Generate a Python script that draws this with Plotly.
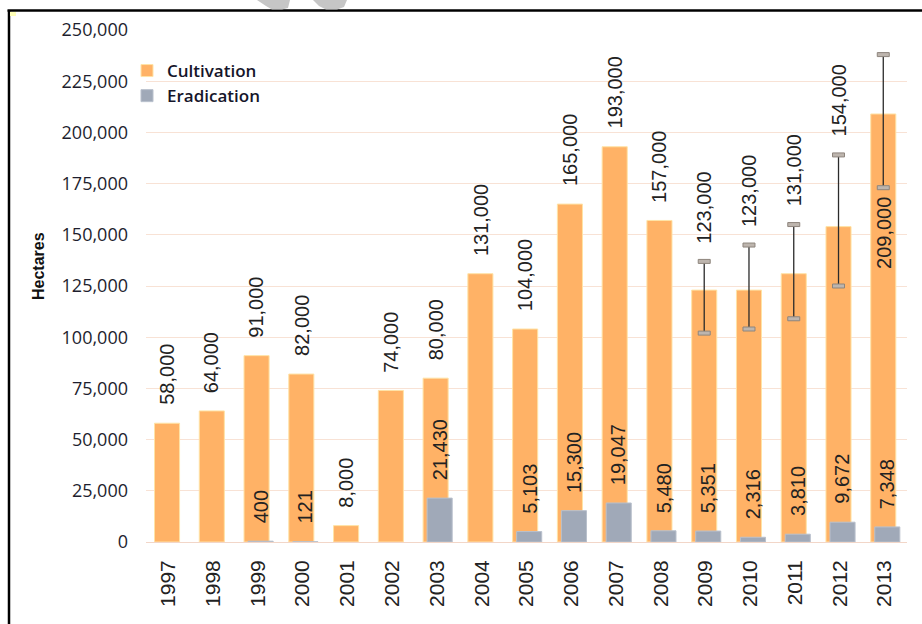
import plotly.graph_objects as go

# ---------------- data ----------------
years = ['1997', '1998', '1999', '2000', '2001', '2002', '2003', '2004', '2005',
         '2006', '2007', '2008', '2009', '2010', '2011', '2012', '2013']
cultivation = [58000, 64000, 91000, 82000, 8000, 74000, 80000, 131000, 104000,
               165000, 193000, 157000, 123000, 123000, 131000, 154000, 209000]
eradication = [None, None, 400, 121, None, None, 21430, None, 5103,
               15300, 19047, 5480, 5351, 2316, 3810, 9672, 7348]
error_years = ['2009', '2010', '2011', '2012', '2013']
error_low = [102000, 104000, 109000, 125000, 173000]
error_high = [137000, 145000, 155000, 189000, 238000]
y_ticks = [0, 25000, 50000, 75000, 100000, 125000, 150000, 175000, 200000, 225000, 250000]

# ---------------- style ----------------
ORANGE = '#FFB266'
GREY = '#A0A9B8'
GRID = '#F8E2D5'
TXT = '#222222'
BAR_W = 0.56
OFF_C = -0.31
OFF_E = -0.22
LABEL_FS = 20
L, R_PX, T_PX, B_PX = 146, 907, 30, 542
W_PX = R_PX - L
H_PX = B_PX - T_PX


def px_x(p):
    return (p - L) / W_PX


def px_y(p):
    return (B_PX - p) / H_PX


err_plus = [None] * len(years)
err_minus = [None] * len(years)
for yr, lo, hi in zip(error_years, error_low, error_high):
    i = years.index(yr)
    err_plus[i] = hi - cultivation[i]
    err_minus[i] = cultivation[i] - lo

fig = go.Figure()
fig.add_trace(go.Bar(
    x=years, y=cultivation, name='Cultivation',
    marker=dict(color=ORANGE, line=dict(color='#FFE3A6', width=1)),
    width=BAR_W, offset=OFF_C,
    error_y=dict(type='data', symmetric=False, array=err_plus, arrayminus=err_minus,
                 color='#2b2b2b', thickness=1.3, width=0),
    hoverinfo='skip',
))
fig.add_trace(go.Bar(
    x=years, y=eradication, name='Eradication',
    marker=dict(color=GREY, line=dict(color='#B9C0CC', width=1)),
    width=BAR_W, offset=OFF_E,
    hoverinfo='skip',
))

annotations = []
shapes = []
label_font = dict(family='Liberation Sans, Arial, sans-serif', size=LABEL_FS, color=TXT)
ymax = y_ticks[-1]
units_per_px = ymax / H_PX


def label_len_units(text):
    return (len(text) * 0.55 * LABEL_FS + 20) * units_per_px


# cultivation labels
for i, (yr, v) in enumerate(zip(years, cultivation)):
    xc = i + OFF_C + BAR_W / 2
    txt = f'{v:,}'
    if yr in error_years:
        k = error_years.index(yr)
        base = error_high[k]
        if base + label_len_units(txt) > ymax:
            annotations.append(dict(x=xc, y=error_low[k], xref='x', yref='y', text=txt,
                                    textangle=-90, showarrow=False, yanchor='top', yshift=-7,
                                    font=label_font))
            continue
        annotations.append(dict(x=xc, y=base, xref='x', yref='y', text=txt,
                                textangle=-90, showarrow=False, yanchor='bottom', yshift=16,
                                font=label_font))
    else:
        annotations.append(dict(x=xc, y=v, xref='x', yref='y', text=txt,
                                textangle=-90, showarrow=False, yanchor='bottom', yshift=16,
                                font=label_font))

# eradication labels
for i, v in enumerate(eradication):
    if v is None:
        continue
    xc = i + OFF_E + BAR_W / 2
    annotations.append(dict(x=xc, y=v, xref='x', yref='y', text=f'{v:,}',
                            textangle=-90, showarrow=False, yanchor='bottom', yshift=16,
                            font=label_font))

# error bar caps
for yr, lo, hi in zip(error_years, error_low, error_high):
    i = years.index(yr)
    xc = i + OFF_C + BAR_W / 2
    for val in (lo, hi):
        shapes.append(dict(type='rect', xref='x', yref='y', xsizemode='pixel', ysizemode='pixel',
                           xanchor=xc, yanchor=val, x0=-6, x1=6, y0=-2, y1=2,
                           fillcolor='#BDB5AE', line=dict(color='#8E857D', width=1), layer='above'))

# y-axis title
annotations.append(dict(x=px_x(38), y=px_y(266), xref='paper', yref='paper', text='<b>Hectares</b>',
                        textangle=-90, showarrow=False, xanchor='center', yanchor='middle',
                        font=dict(family='Liberation Sans, Arial, sans-serif', size=16, color='#111111')))

# frame lines
shapes.append(dict(type='line', xref='paper', yref='paper', x0=px_x(7.5), x1=px_x(922),
                   y0=px_y(10.5), y1=px_y(10.5), line=dict(color='black', width=2.5)))
shapes.append(dict(type='line', xref='paper', yref='paper', x0=px_x(9), x1=px_x(9),
                   y0=px_y(10), y1=px_y(624), line=dict(color='black', width=2.5)))
# small yellow corner mark
shapes.append(dict(type='rect', xref='paper', yref='paper', x0=px_x(10), x1=px_x(16),
                   y0=px_y(16), y1=px_y(12), fillcolor='#FFFFB8', line=dict(width=0)))
# watermark fragments above the frame


def poly(pts):
    s = 'M' + ' L'.join(f'{px_x(a):.5f},{px_y(b):.5f}' for a, b in pts) + ' Z'
    return s


shapes.append(dict(type='path', xref='paper', yref='paper',
                   path=poly([(257, 0), (290, 0), (288, 8), (282, 9.5), (272, 9.5), (266, 6)]),
                   fillcolor='#C6C6C6', line=dict(width=0)))
shapes.append(dict(type='path', xref='paper', yref='paper',
                   path=poly([(313, 0), (347, 0), (344, 7), (337, 9.5), (326, 9.5), (319, 6)]),
                   fillcolor='#C6C6C6', line=dict(width=0)))

fig.update_layout(
    width=922, height=624,
    margin=dict(l=L, r=922 - R_PX, t=T_PX, b=624 - B_PX, pad=0),
    paper_bgcolor='white', plot_bgcolor='white',
    barmode='overlay',
    showlegend=True,
    legend=dict(x=px_x(127), y=px_y(53), xanchor='left', yanchor='top',
                bgcolor='rgba(0,0,0,0)', tracegroupgap=0,
                font=dict(family='Open Sans, sans-serif', size=17, color='#15152A', weight=600)),
    annotations=annotations,
    shapes=shapes,
    hovermode=False,
)
fig.update_xaxes(type='category', range=[-0.5, len(years) - 0.5], tickangle=-90,
                 showgrid=False, showline=False, zeroline=False, ticks='',
                 ticklabelstandoff=13,
                 tickfont=dict(family='Liberation Sans, Arial, sans-serif', size=21, color=TXT))
fig.update_yaxes(range=[0, ymax], tickvals=y_ticks, tickformat=',', showgrid=True,
                 gridcolor=GRID, gridwidth=1, zeroline=True, zerolinecolor='#F2D6C8',
                 zerolinewidth=1.2, showline=False, ticks='', ticklabelstandoff=17,
                 tickfont=dict(family='Open Sans, sans-serif', size=18, color='#1E1E2E'))

fig.write_html('out.html', config={'displayModeBar': False},
               post_script="document.body.style.margin='0px';document.body.style.overflow='hidden';")
